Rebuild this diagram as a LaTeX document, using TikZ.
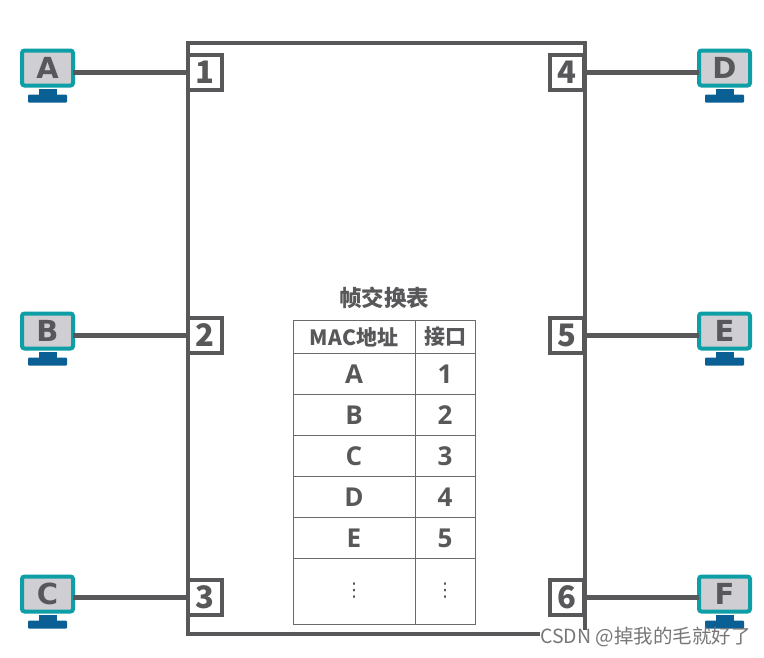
\documentclass[tikz,border=0pt]{standalone}
\usepackage{xcolor}
\usepackage{fontspec}
\setmainfont{Open Sans}
\newfontfamily\cjkfont{Noto Sans CJK SC}
\newfontfamily\widefont{DejaVu Sans}
\usetikzlibrary{positioning}
\definecolor{switchgray}{HTML}{58585A}
\definecolor{screenteal}{HTML}{0E9EA6}
\definecolor{screenfill}{HTML}{CFCFD3}
\definecolor{standblue}{HTML}{0A5F95}
\definecolor{marktext}{HTML}{777777}
\definecolor{tablegray}{HTML}{6A6A6C}

\begin{document}
\begin{tikzpicture}[
  x=1pt, y=-1pt,
  switchbox/.style={draw=switchgray, line width=4pt},
  port/.style={draw=switchgray, fill=white, line width=4pt, minimum width=34pt, minimum height=35pt, inner sep=0pt, outer sep=0pt, text=switchgray, font=\cjkfont\fontsize{31}{31}\selectfont\bfseries},
  screen/.style={draw=screenteal, fill=screenfill, line width=4pt, rounded corners=2.5pt, minimum width=51pt, minimum height=35pt, inner sep=0pt, outer sep=0pt, text=switchgray, font=\widefont\fontsize{29}{29}\selectfont\bfseries},
  neck/.style={fill=standblue, minimum width=18pt, minimum height=6pt, inner sep=0pt, outer sep=0pt},
  base/.style={fill=standblue, rounded corners=1pt, minimum width=39pt, minimum height=8pt, inner sep=0pt, outer sep=0pt},
  link/.style={draw=switchgray, line width=4.6pt},
  cell/.style={draw=tablegray, line width=1pt, inner sep=0pt, outer sep=0pt, text=switchgray, font=\fontsize{26}{26}\selectfont\bfseries},
  keyc/.style={cell, minimum width=122pt},
  portc/.style={cell, minimum width=60pt},
  head/.style={font=\cjkfont\fontsize{21}{21}\selectfont\bfseries},
  dots/.style={font=\widefont\fontsize{19}{19}\selectfont},
  row/.style={minimum height=41pt},
  tabletitle/.style={text=switchgray, font=\cjkfont\fontsize{22.5}{22.5}\selectfont\bfseries, inner sep=0pt},
  watermark/.style={text=marktext, font=\cjkfont\fontsize{19.5}{19.5}\selectfont, inner sep=0pt}
]
\useasboundingbox (0,0) rectangle (764,657);
\fill[white] (0,0) rectangle (764,657);
\draw[switchbox] (540,633.5) -| (187.5,42.5) -| (585,630);

% ports
\node[port] (p1) at (205,72.5) {1};
\node[port] (p2) at (205,335.5) {2};
\node[port] (p3) at (205,597.5) {3};
\node[port] (p4) at (567,72.5) {4};
\node[port] (p5) at (567,335.5) {5};
\node[port] (p6) at (567,597.5) {6};

% hosts on the left
\node[screen] (ma) at (47.5,68) {A};
\node[neck] (na) at (47.5,92) {};
\node[base] (ba) at (47.5,98.5) {};
\node[screen] (mb) at (47.5,331) {B};
\node[neck] (nb) at (47.5,355) {};
\node[base] (bb) at (47.5,361.5) {};
\node[screen] (mc) at (47.5,594) {C};
\node[neck] (nc) at (47.5,618) {};
\node[base] (bc) at (47.5,624.5) {};

% hosts on the right
\node[screen] (md) at (724.5,68) {D};
\node[neck] (nd) at (724.5,92) {};
\node[base] (bd) at (724.5,98.5) {};
\node[screen] (me) at (724.5,331) {E};
\node[neck] (ne) at (724.5,355) {};
\node[base] (be) at (724.5,361.5) {};
\node[screen] (mf) at (724.5,594) {F};
\node[neck] (nf) at (724.5,618) {};
\node[base] (bf) at (724.5,624.5) {};

% links
\draw[link] (ma.east |- p1.west) -- (p1.west);
\draw[link] (mb.east |- p2.west) -- (p2.west);
\draw[link] (mc.east |- p3.west) -- (p3.west);
\draw[link] (p4.east) -- (md.west |- p4.east);
\draw[link] (p5.east) -- (me.west |- p5.east);
\draw[link] (p6.east) -- (mf.west |- p6.east);

% table
\node[tabletitle] (title) at (384,298) {帧交换表};
\node[keyc, head, minimum height=33pt] (k0) at (354,337) {MAC地址};
\node[portc, head, minimum height=33pt] (v0) at (445,337) {接口};
\node[keyc, row] (k1) at (354,374) {A};
\node[portc, row] (v1) at (445,374) {1};
\node[keyc, row] (k2) at (354,415) {B};
\node[portc, row] (v2) at (445,415) {2};
\node[keyc, row] (k3) at (354,456) {C};
\node[portc, row] (v3) at (445,456) {3};
\node[keyc, row] (k4) at (354,497) {D};
\node[portc, row] (v4) at (445,497) {4};
\node[keyc, row] (k5) at (354,538) {E};
\node[portc, row] (v5) at (445,538) {5};
\node[keyc, dots, minimum height=66pt] (k6) at (354,591) {⋮};
\node[portc, dots, minimum height=66pt] (v6) at (445,591) {⋮};

\node[watermark, anchor=east] (mark) at (751,637) {CSDN @掉我的毛就好了};
\end{tikzpicture}
\end{document}
